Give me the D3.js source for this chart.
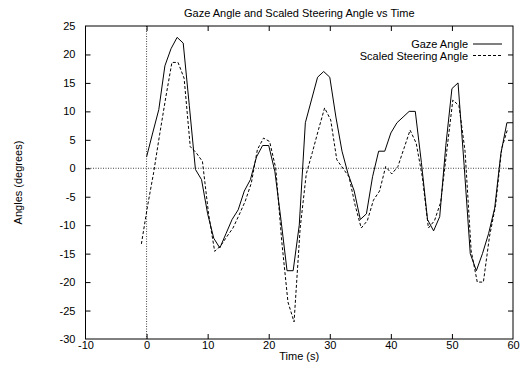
<!DOCTYPE html>
<html>
<head>
<meta charset="utf-8">
<script src="https://cdn.jsdelivr.net/npm/d3@7/dist/d3.min.js"></script>
<style>
  html, body { margin: 0; padding: 0; background: #fff; }
  svg { display: block; }
  text { font-family: "Liberation Sans", Arial, Helvetica, sans-serif; fill: #000; }
</style>
</head>
<body>
<script>
// ---- data ----
const gazeTime = [0,1,2,3,4,5,6,7,8,9,10,11,12,13,14,15,16,17,18,19,20,21,22,23,24,25,26,27,28,29,30,31,32,33,34,35,36,37,38,39,40,41,42,43,44,45,46,47,48,49,50,51,52,53,54,55,56,57,58,59,60];
const gazeAngle = [2,6.2,10.3,18,21,23,22,11,-0.2,-2,-8,-12.3,-14,-11.5,-9,-7.3,-4,-2,2,4,4,-0.5,-9,-18,-18,-10,8,12,16,17,16,9,3,-1,-4,-9,-8,-1.5,3,3,6.2,8,9,10,10,1,-9,-11,-8.5,4,14,15,0.5,-15,-18,-15,-11.5,-7,2.5,8,8];
const steerTime = [-0.85,0.15,1.15,2.15,3.15,4.15,5.15,6.15,7.15,8.15,9.15,10.15,11.15,12.15,13.15,14.15,15.15,16.15,17.15,18.15,19.15,20.15,21.15,22.15,23.15,24.15,25.15,26.15,27.15,28.15,29.15,30.15,31.15,32.15,33.15,34.15,35.15,36.15,37.15,38.15,39.15,40.15,41.15,42.15,43.15,44.15,45.15,46.15,47.15,48.15,49.15,50.15,51.15,52.15,53.15,54.15,55.15,56.15,57.15,58.15,59.15];
const steerAngle = [-13.3,-6.7,-0.8,6,12.5,18.6,18.6,15.8,3.8,2.7,1.2,-8,-14.6,-13.6,-12,-10.5,-8.2,-5.8,-2.6,3.3,5.3,4.7,0,-13,-23.5,-27,-10.5,-1,2.8,6.8,10.6,8.5,1.5,0,-1.5,-6.5,-10.5,-9.2,-5.6,-4,0.3,-1,0.3,3.5,6.7,4.4,-1.5,-10.5,-9.2,-6,3,12,11,3,-14.5,-20,-20,-12,-6.5,3.5,7];
const xTicks = [-10,0,10,20,30,40,50,60];
const yTicks = [-30,-25,-20,-15,-10,-5,0,5,10,15,20,25];
const seriesNames = ["Gaze Angle", "Scaled Steering Angle"];
const titleText = "Gaze Angle and Scaled Steering Angle vs Time";
const xLabelText = "Time (s)";
const yLabelText = "Angles (degrees)";

// ---- layout ----
const W = 522, H = 378;
const L = 85.5, R = 513, T = 26, B = 339;

const svg = d3.select("body").append("svg").attr("width", W).attr("height", H);

const x = d3.scaleLinear().domain([-10, 60]).range([L, R]);
const y = d3.scaleLinear().domain([-30, 25]).range([B, T]);
const fmt = d => String(d);

// zero axes (dotted)
svg.append("line").attr("x1", L).attr("x2", R).attr("y1", y(0)).attr("y2", y(0))
  .attr("stroke", "#444").attr("stroke-width", 1).attr("stroke-dasharray", "1,1.5");
svg.append("line").attr("x1", x(0)).attr("x2", x(0)).attr("y1", T).attr("y2", B)
  .attr("stroke", "#444").attr("stroke-width", 1).attr("stroke-dasharray", "1,1.5");

// axes with inward ticks
const fs = 11;
const gB = svg.append("g").attr("transform", `translate(0,${B})`)
  .call(d3.axisBottom(x).tickValues(xTicks).tickFormat(fmt).tickSizeInner(-5).tickSizeOuter(0).tickPadding(2));
const gT = svg.append("g").attr("transform", `translate(0,${T})`)
  .call(d3.axisTop(x).tickValues(xTicks).tickSizeInner(-5).tickSizeOuter(0).tickFormat(""));
const gL = svg.append("g").attr("transform", `translate(${L},0)`)
  .call(d3.axisLeft(y).tickValues(yTicks).tickFormat(fmt).tickSizeInner(-5).tickSizeOuter(0).tickPadding(10));
const gR = svg.append("g").attr("transform", `translate(${R},0)`)
  .call(d3.axisRight(y).tickValues(yTicks).tickSizeInner(-5).tickSizeOuter(0).tickFormat(""));
[gB, gT, gL, gR].forEach(g => {
  g.select(".domain").remove();
  g.selectAll(".tick line").attr("stroke", "#000");
  g.selectAll("text").attr("font-size", fs).attr("font-family", null).attr("fill", "#000");
});
gB.selectAll(".tick").filter(d => d === -10 || d === 60).select("line").remove();
gT.selectAll(".tick").filter(d => d === -10 || d === 60).select("line").remove();
gL.selectAll(".tick").filter(d => d === -30 || d === 25).select("line").remove();
gR.selectAll(".tick").filter(d => d === -30 || d === 25).select("line").remove();

// series
const gazeData = gazeTime.map((t, i) => [t, gazeAngle[i]]);
const steerData = steerTime.map((t, i) => [t, steerAngle[i]]);
const line = d3.line().x(d => x(d[0])).y(d => y(d[1]));

svg.append("path").datum(steerData).attr("d", line)
  .attr("fill", "none").attr("stroke", "#000").attr("stroke-width", 1).attr("stroke-dasharray", "3,2");
svg.append("path").datum(gazeData).attr("d", line)
  .attr("fill", "none").attr("stroke", "#000").attr("stroke-width", 1);

// frame
svg.append("rect").attr("x", L).attr("y", T).attr("width", R - L).attr("height", B - T)
  .attr("fill", "none").attr("stroke", "#000").attr("stroke-width", 1);

// legend
const legY = [44, 55.5];
const legDash = [null, "3,2"];
seriesNames.forEach((name, i) => {
  svg.append("text").attr("x", 468).attr("y", legY[i] + 4).attr("text-anchor", "end")
    .attr("font-size", fs).text(name);
  svg.append("line").attr("x1", 473).attr("x2", 502).attr("y1", legY[i]).attr("y2", legY[i])
    .attr("stroke", "#000").attr("stroke-width", 1).attr("stroke-dasharray", legDash[i]);
});

// title and axis labels
svg.append("text").attr("x", (L + R) / 2).attr("y", 16.5).attr("text-anchor", "middle")
  .attr("font-size", fs).text(titleText);
svg.append("text").attr("x", (L + R) / 2).attr("y", 359.5).attr("text-anchor", "middle")
  .attr("font-size", fs).text(xLabelText);
svg.append("text").attr("transform", `translate(21.5,${(T + B) / 2}) rotate(-90)`)
  .attr("text-anchor", "middle").attr("font-size", fs).text(yLabelText);
</script>
</body>
</html>
